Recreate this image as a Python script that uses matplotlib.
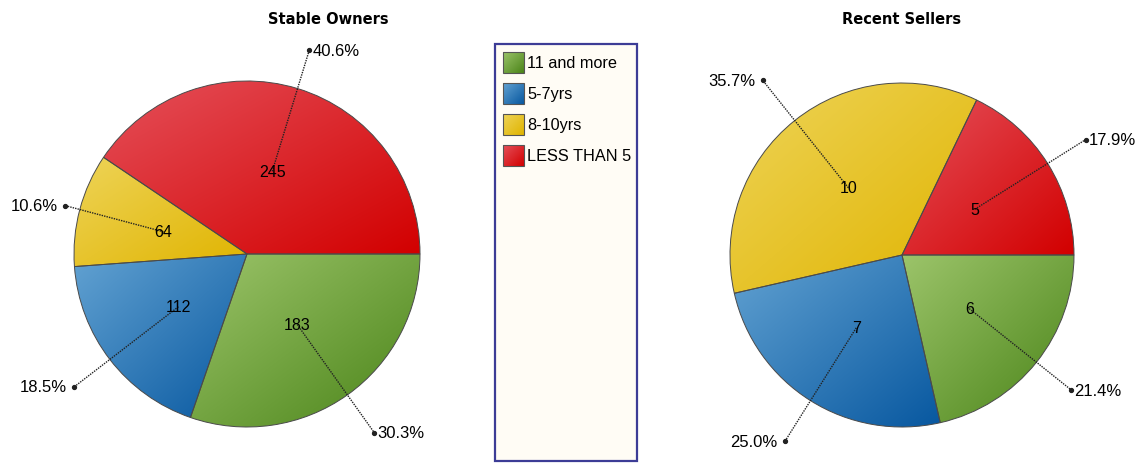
import numpy as np
import matplotlib.pyplot as plt
from matplotlib.patches import Rectangle
from matplotlib.colors import to_rgb

categories = ["11 and more", "5-7yrs", "8-10yrs", "LESS THAN 5"]
stable_owners = [183, 112, 64, 245]
recent_sellers = [6, 7, 10, 5]
titles = ["Stable Owners", "Recent Sellers"]

# light (upper-left) and dark (lower-right) ends of each slice gradient
light = ["#9cc46a", "#62a2d2", "#eed458", "#e5505a"]
dark = ["#4a8418", "#0858a0", "#e0b400", "#d20000"]

W, H = 1140, 464
fig = plt.figure(figsize=(W / 100, H / 100), dpi=100)
ax = fig.add_axes([0, 0, 1, 1])

FONT = "Liberation Sans"


def fill_gradient(patch, c0, c1, n=80):
    path = patch.get_patch_transform().transform_path(patch.get_path())
    ext = path.get_extents()
    gx = np.linspace(0, 1, n)[None, :]
    gy = np.linspace(1, 0, n)[:, None]  # origin lower: row 0 is the bottom
    t = (gx * 0.5 + gy * 0.5)[..., None]
    img = np.array(to_rgb(c0)) * (1 - t) + np.array(to_rgb(c1)) * t
    im = ax.imshow(img, extent=(ext.x0, ext.x1, ext.y0, ext.y1), origin="lower",
                   interpolation="bilinear", zorder=patch.get_zorder() - 0.1,
                   aspect="auto")
    im.set_clip_path(patch)
    patch.set_facecolor("none")


def draw_pie(values, cx, cy, r, outer, title, title_x):
    total = sum(values)
    wedges, _ = ax.pie(values, colors=light, startangle=0, counterclock=False,
                       center=(cx, cy), radius=r, frame=True,
                       wedgeprops=dict(edgecolor="#4a4a4a", linewidth=0.7, zorder=2))
    for i, w in enumerate(wedges):
        fill_gradient(w, light[i], dark[i])
        mid = np.deg2rad((w.theta1 + w.theta2) / 2)
        ix, iy = cx + 0.5 * r * np.cos(mid), cy + 0.5 * r * np.sin(mid)
        ox, oy = cx + outer[i] * r * np.cos(mid), cy + outer[i] * r * np.sin(mid)
        ax.plot([ix, ox], [iy, oy], color="#222222", lw=1.0, ls=(0, (1, 0.8)), zorder=3)
        ax.plot(ox, oy, "o", color="#222222", ms=2.8, zorder=3)
        ax.text(ix, iy, str(values[i]), ha="center", va="center", fontsize=11.5,
                family=FONT, zorder=4)
        pct = f"{values[i] / total * 100:.1f}%"
        if np.cos(mid) >= 0:
            ax.text(ox + 3, oy, pct, ha="left", va="center", fontsize=12, family=FONT)
        else:
            ax.text(ox - 7, oy, pct, ha="right", va="center", fontsize=12, family=FONT)
    ax.text(title_x, H - 20, title, ha="center", va="center", fontsize=10.5,
            fontweight="bold", family="DejaVu Sans")


draw_pie(stable_owners, 247, H - 255, 173, [1.27, 1.26, 1.09, 1.23], titles[0], 328)
draw_pie(recent_sellers, 902, H - 256, 172, [1.26, 1.28, 1.30, 1.26], titles[1], 902)

# legend box
ax.add_patch(Rectangle((495, H - 462), 142, 417, facecolor="#fffcf5",
                       edgecolor="#3c3c96", lw=1.6, zorder=1))
for i, name in enumerate(categories):
    top = 53 + 31 * i
    sw = Rectangle((503, H - top - 21), 21, 21, edgecolor="#555555", lw=0.8, zorder=2)
    ax.add_patch(sw)
    fill_gradient(sw, light[i], dark[i])
    ax.text(527, H - top - 10.5, name, ha="left", va="center", fontsize=11.7, family=FONT)

ax.set_xlim(0, W)
ax.set_ylim(0, H)
ax.set_aspect("auto")
ax.axis("off")

fig.savefig("out.png", dpi=100)
